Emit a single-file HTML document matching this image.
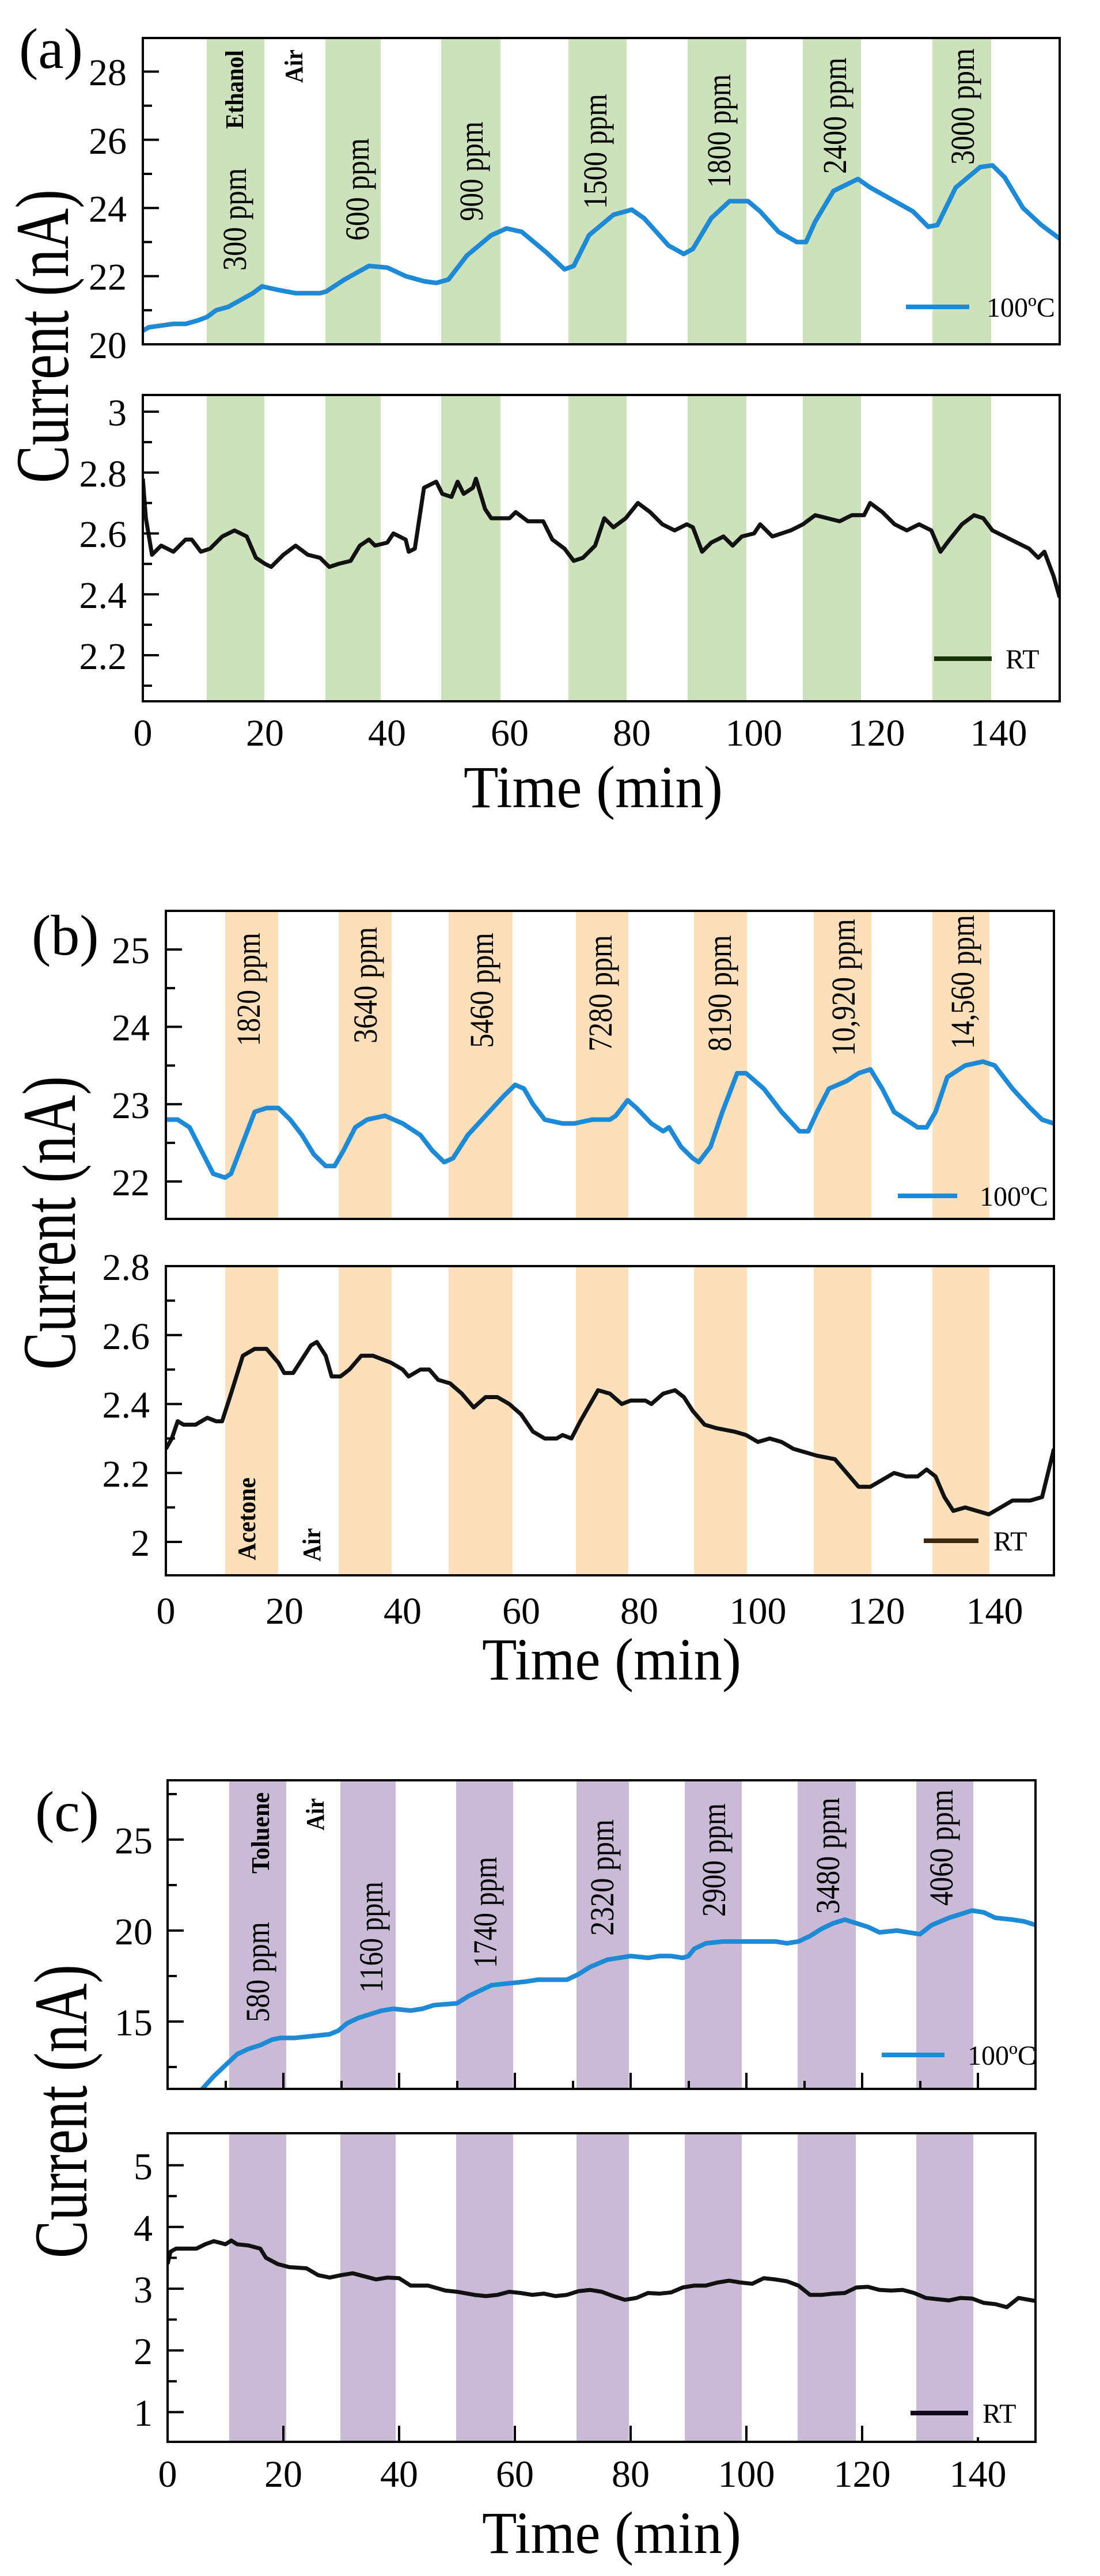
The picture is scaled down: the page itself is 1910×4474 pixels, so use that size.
<!DOCTYPE html>
<html><head><meta charset="utf-8"><style>
html,body{margin:0;padding:0;background:#fff;}
svg{display:block;}
text{font-family:"Liberation Serif",serif;fill:#000;}
.tk{font-size:66px;}
.ax{fill:none;stroke:#000;stroke-width:4;}
.t{stroke:#000;stroke-width:4;}
.b{fill:none;stroke:#1e8ad6;stroke-width:8;stroke-linejoin:round;vector-effect:non-scaling-stroke;}
.k{fill:none;stroke:#111;stroke-width:7;stroke-linejoin:round;vector-effect:non-scaling-stroke;}
.pp{font-size:58px;}
.bd{font-size:44px;font-weight:bold;}
.lg{font-size:48px;}
</style></head><body>
<svg width="1910" height="4474" viewBox="0 0 1910 4474" xmlns="http://www.w3.org/2000/svg">
<defs>
<clipPath id="ca1"><rect x="248" y="66" width="1592" height="532"/></clipPath>
<clipPath id="ca2"><rect x="248" y="686" width="1592" height="532"/></clipPath>
<clipPath id="cb1"><rect x="288" y="1582" width="1542" height="535"/></clipPath>
<clipPath id="cb2"><rect x="288" y="2199" width="1542" height="537"/></clipPath>
<clipPath id="cc1"><rect x="291" y="3092" width="1507" height="536"/></clipPath>
<clipPath id="cc2"><rect x="291" y="3705" width="1507" height="536"/></clipPath>
<g id="bA" fill="#cde1bc"><rect x="359" y="0" width="100" height="1"/><rect x="565" y="0" width="96" height="1"/><rect x="766" y="0" width="103" height="1"/><rect x="987" y="0" width="101" height="1"/><rect x="1194" y="0" width="102" height="1"/><rect x="1394" y="0" width="101" height="1"/><rect x="1619" y="0" width="102" height="1"/></g>
<g id="bB" fill="#fde0bb"><rect x="391" y="0" width="92" height="1"/><rect x="588" y="0" width="92" height="1"/><rect x="779" y="0" width="111" height="1"/><rect x="1000" y="0" width="91" height="1"/><rect x="1205" y="0" width="92" height="1"/><rect x="1413" y="0" width="100" height="1"/><rect x="1619" y="0" width="99" height="1"/></g>
<g id="bC" fill="#c9bbd6"><rect x="398" y="0" width="99" height="1"/><rect x="591" y="0" width="96" height="1"/><rect x="792" y="0" width="99" height="1"/><rect x="1001" y="0" width="91" height="1"/><rect x="1189" y="0" width="99" height="1"/><rect x="1385" y="0" width="101" height="1"/><rect x="1591" y="0" width="99" height="1"/></g>
</defs>

<!-- ================= (a) ================= -->
<use href="#bA" transform="translate(0,66) scale(1,532)"/>
<use href="#bA" transform="translate(0,686) scale(1,532)"/>
<g clip-path="url(#ca1)"><polyline class="b" transform="matrix(10.613 0 0 -59.2 248 1782)" points="0,20.4 1,20.5 3,20.55 5,20.6 7,20.6 9,20.7 10.5,20.8 12,21.0 14,21.1 16,21.3 18,21.5 19.5,21.7 22,21.6 25,21.5 27,21.5 29,21.5 30,21.55 33,21.9 35,22.1 37,22.3 40,22.25 43,22.0 46,21.85 48,21.8 50,21.9 53,22.6 57,23.2 59.5,23.4 62,23.3 64,23.0 66,22.7 69,22.2 70.5,22.3 73,23.2 77,23.8 80,23.95 82,23.7 84,23.3 86,22.9 88.5,22.65 90,22.8 93,23.7 96,24.2 99,24.2 101,23.9 104,23.3 107,23.0 108.5,23.0 110,23.6 113,24.5 117,24.85 119,24.6 123,24.2 126,23.9 128.5,23.45 130,23.5 133,24.6 137,25.2 139,25.25 141,24.9 144,24.0 147,23.5 150,23.1"/></g>
<g clip-path="url(#ca2)"><polyline class="k" transform="matrix(10.613 0 0 -528.75 248 2301.25)" points="0,2.78 0.5,2.65 1.5,2.53 3,2.56 5,2.54 7,2.58 8,2.58 9.5,2.54 11,2.55 13,2.59 15,2.61 17,2.59 18.5,2.52 20,2.5 21,2.49 23,2.53 25,2.56 27,2.53 29,2.52 30.5,2.49 32,2.5 34,2.51 35.5,2.56 37,2.58 38,2.56 40,2.57 41,2.6 43,2.58 43.5,2.54 44.5,2.55 46,2.75 47,2.76 48,2.77 49,2.73 50.5,2.72 51.5,2.77 52.5,2.73 54,2.75 54.5,2.78 56,2.68 57,2.65 60,2.65 61,2.67 63,2.64 65.5,2.64 67,2.58 69,2.55 70.5,2.51 72,2.52 74,2.56 75.5,2.65 77,2.62 79,2.65 81,2.70 83,2.67 85,2.63 87,2.61 89,2.63 90,2.62 91.5,2.54 93,2.57 95,2.59 96.5,2.56 98,2.59 100,2.6 101,2.63 103,2.59 106,2.61 108,2.63 110,2.66 114,2.64 116,2.66 118,2.66 119,2.7 121,2.67 123,2.63 125,2.61 127,2.63 129,2.61 130.5,2.54 132,2.58 134,2.63 136,2.66 137.5,2.65 139,2.61 141,2.59 143,2.57 145,2.55 146.5,2.52 147.5,2.54 149,2.46 150,2.39"/></g>
<rect class="ax" x="248" y="66" width="1592" height="532"/>
<rect class="ax" x="248" y="686" width="1592" height="532"/>
<g class="t">
<line x1="248" y1="598" x2="276" y2="598"/><line x1="248" y1="479.6" x2="276" y2="479.6"/><line x1="248" y1="361.2" x2="276" y2="361.2"/><line x1="248" y1="242.8" x2="276" y2="242.8"/><line x1="248" y1="124.4" x2="276" y2="124.4"/>
<line x1="248" y1="538.8" x2="264" y2="538.8"/><line x1="248" y1="420.4" x2="264" y2="420.4"/><line x1="248" y1="302" x2="264" y2="302"/><line x1="248" y1="183.6" x2="264" y2="183.6"/>
<line x1="248" y1="715" x2="276" y2="715"/><line x1="248" y1="820.75" x2="276" y2="820.75"/><line x1="248" y1="926.5" x2="276" y2="926.5"/><line x1="248" y1="1032.25" x2="276" y2="1032.25"/><line x1="248" y1="1138" x2="276" y2="1138"/>
<line x1="248" y1="767.9" x2="264" y2="767.9"/><line x1="248" y1="873.6" x2="264" y2="873.6"/><line x1="248" y1="979.4" x2="264" y2="979.4"/><line x1="248" y1="1085.1" x2="264" y2="1085.1"/><line x1="248" y1="1190.9" x2="264" y2="1190.9"/>
</g>
<g class="tk" text-anchor="end">
<text x="220" y="622">20</text><text x="220" y="503">22</text><text x="220" y="385">24</text><text x="220" y="267">26</text><text x="220" y="148">28</text>
<text x="220" y="739">3</text><text x="220" y="845">2.8</text><text x="220" y="950">2.6</text><text x="220" y="1056">2.4</text><text x="220" y="1162">2.2</text>
</g>
<g class="tk" text-anchor="middle">
<text x="248" y="1295">0</text><text x="460" y="1295">20</text><text x="672" y="1295">40</text><text x="885" y="1295">60</text><text x="1097" y="1295">80</text><text x="1309" y="1295">100</text><text x="1522" y="1295">120</text><text x="1734" y="1295">140</text>
</g>
<text x="1030" y="1402" font-size="104" text-anchor="middle" textLength="450" lengthAdjust="spacingAndGlyphs">Time (min)</text>
<text transform="translate(118,584) rotate(-90)" font-size="132" text-anchor="middle" textLength="510" lengthAdjust="spacingAndGlyphs">Current (nA)</text>
<text x="33" y="118" font-size="100">(a)</text>
<g class="pp" lengthAdjust="spacingAndGlyphs">
<text transform="translate(427,470) rotate(-90)" textLength="178" lengthAdjust="spacingAndGlyphs">300 ppm</text>
<text transform="translate(640,418) rotate(-90)" textLength="178" lengthAdjust="spacingAndGlyphs">600 ppm</text>
<text transform="translate(838,384) rotate(-90)" textLength="173" lengthAdjust="spacingAndGlyphs">900 ppm</text>
<text transform="translate(1053,363) rotate(-90)" textLength="200" lengthAdjust="spacingAndGlyphs">1500 ppm</text>
<text transform="translate(1268,326) rotate(-90)" textLength="197" lengthAdjust="spacingAndGlyphs">1800 ppm</text>
<text transform="translate(1469,302) rotate(-90)" textLength="202" lengthAdjust="spacingAndGlyphs">2400 ppm</text>
<text transform="translate(1691,286) rotate(-90)" textLength="202" lengthAdjust="spacingAndGlyphs">3000 ppm</text>
</g>
<text class="bd" transform="translate(422,224) rotate(-90)" textLength="137" lengthAdjust="spacingAndGlyphs">Ethanol</text>
<text class="bd" transform="translate(525,144) rotate(-90)" textLength="58" lengthAdjust="spacingAndGlyphs">Air</text>
<line x1="1573" y1="533" x2="1683" y2="533" stroke="#1e8ad6" stroke-width="8"/>
<text class="lg" x="1713" y="550">100ºC</text>
<line x1="1622" y1="1144" x2="1722" y2="1144" stroke="#1b3308" stroke-width="8"/>
<text class="lg" x="1746" y="1161">RT</text>

<!-- ================= (b) ================= -->
<use href="#bB" transform="translate(0,1582) scale(1,535)"/>
<use href="#bB" transform="translate(0,2199) scale(1,537)"/>
<g clip-path="url(#cb1)"><polyline class="b" transform="matrix(10.28 0 0 -134.3 288 5006.6)" points="0,22.8 2,22.8 4,22.7 6,22.4 8,22.1 10,22.05 11,22.1 13,22.5 15,22.9 17,22.95 19,22.95 21,22.8 23,22.6 25,22.35 27,22.2 28.5,22.2 30,22.4 32,22.7 34,22.8 37,22.85 40,22.75 43,22.6 45,22.4 47,22.25 48.5,22.3 51,22.6 54,22.85 57,23.1 59,23.25 60.5,23.2 62,23.0 64,22.8 67,22.75 69,22.75 72,22.8 75,22.8 76,22.85 78,23.05 79.5,22.95 82,22.75 84,22.65 85,22.7 87,22.45 89,22.3 90,22.25 92,22.45 94,22.9 96.5,23.4 98,23.4 101,23.2 104,22.9 107,22.65 108.5,22.65 110,22.9 112,23.2 115,23.3 117,23.4 119,23.45 121,23.2 123,22.9 125,22.8 127,22.7 128.5,22.7 130,22.9 132,23.35 135,23.5 138,23.55 140,23.5 143,23.2 146,22.95 148,22.8 150,22.75"/></g>
<g clip-path="url(#cb2)"><polyline class="k" transform="matrix(10.28 0 0 -598.75 288 3875.5)" points="0,2.27 1,2.3 2,2.35 3,2.34 5,2.34 7,2.36 8.5,2.35 9.5,2.35 11,2.43 13,2.54 15,2.56 17,2.56 19,2.52 20,2.49 21.5,2.49 23,2.53 24.5,2.57 25.5,2.58 27,2.54 28,2.48 29.5,2.48 31,2.5 33,2.54 35,2.54 38,2.52 40,2.5 41,2.48 43,2.5 44.5,2.5 46,2.47 48,2.46 50,2.43 52,2.39 54,2.42 56,2.42 58,2.4 60,2.37 62,2.32 64,2.3 66,2.3 67,2.31 68.5,2.3 70,2.35 72,2.41 73,2.44 75,2.43 77,2.4 78.5,2.41 81,2.41 82,2.4 84,2.43 86,2.44 87.5,2.42 89,2.38 91,2.34 93,2.33 96,2.32 98,2.31 100,2.29 102,2.3 104,2.29 106,2.27 108,2.26 110,2.25 113,2.24 115,2.2 117,2.16 119,2.16 121,2.18 123,2.2 125,2.19 127,2.19 128.5,2.21 130,2.19 131.5,2.13 133,2.09 135,2.1 137,2.09 139,2.08 141,2.1 143,2.12 146,2.12 148,2.13 149,2.2 150,2.27"/></g>
<rect class="ax" x="288" y="1582" width="1542" height="535"/>
<rect class="ax" x="288" y="2199" width="1542" height="537"/>
<g class="t">
<line x1="288" y1="2052" x2="316" y2="2052"/><line x1="288" y1="1917.7" x2="316" y2="1917.7"/><line x1="288" y1="1783.4" x2="316" y2="1783.4"/><line x1="288" y1="1649.1" x2="316" y2="1649.1"/>
<line x1="288" y1="1984.9" x2="304" y2="1984.9"/><line x1="288" y1="1850.6" x2="304" y2="1850.6"/><line x1="288" y1="1716.2" x2="304" y2="1716.2"/>
<line x1="288" y1="2678" x2="316" y2="2678"/><line x1="288" y1="2558.25" x2="316" y2="2558.25"/><line x1="288" y1="2438.5" x2="316" y2="2438.5"/><line x1="288" y1="2318.75" x2="316" y2="2318.75"/><line x1="288" y1="2199" x2="316" y2="2199"/>
<line x1="288" y1="2618.1" x2="304" y2="2618.1"/><line x1="288" y1="2498.4" x2="304" y2="2498.4"/><line x1="288" y1="2378.6" x2="304" y2="2378.6"/><line x1="288" y1="2258.9" x2="304" y2="2258.9"/>
</g>
<g class="tk" text-anchor="end">
<text x="260" y="2076">22</text><text x="260" y="1942">23</text><text x="260" y="1807">24</text><text x="260" y="1673">25</text>
<text x="260" y="2702">2</text><text x="260" y="2582">2.2</text><text x="260" y="2462">2.4</text><text x="260" y="2343">2.6</text><text x="260" y="2223">2.8</text>
</g>
<g class="tk" text-anchor="middle">
<text x="288" y="2820">0</text><text x="494" y="2820">20</text><text x="699" y="2820">40</text><text x="905" y="2820">60</text><text x="1110" y="2820">80</text><text x="1316" y="2820">100</text><text x="1522" y="2820">120</text><text x="1727" y="2820">140</text>
</g>
<text x="1062" y="2917" font-size="104" text-anchor="middle" textLength="450" lengthAdjust="spacingAndGlyphs">Time (min)</text>
<text transform="translate(130,2124) rotate(-90)" font-size="132" text-anchor="middle" textLength="510" lengthAdjust="spacingAndGlyphs">Current (nA)</text>
<text x="55" y="1658" font-size="100">(b)</text>
<g class="pp">
<text transform="translate(451,1817) rotate(-90)" textLength="197" lengthAdjust="spacingAndGlyphs">1820 ppm</text>
<text transform="translate(654,1812) rotate(-90)" textLength="202" lengthAdjust="spacingAndGlyphs">3640 ppm</text>
<text transform="translate(856,1820) rotate(-90)" textLength="200" lengthAdjust="spacingAndGlyphs">5460 ppm</text>
<text transform="translate(1062,1826) rotate(-90)" textLength="202" lengthAdjust="spacingAndGlyphs">7280 ppm</text>
<text transform="translate(1269,1826) rotate(-90)" textLength="202" lengthAdjust="spacingAndGlyphs">8190 ppm</text>
<text transform="translate(1484,1834) rotate(-90)" textLength="238" lengthAdjust="spacingAndGlyphs">10,920 ppm</text>
<text transform="translate(1691,1822) rotate(-90)" textLength="233" lengthAdjust="spacingAndGlyphs">14,560 ppm</text>
</g>
<text class="bd" transform="translate(443,2710) rotate(-90)" textLength="144" lengthAdjust="spacingAndGlyphs">Acetone</text>
<text class="bd" transform="translate(556,2712) rotate(-90)" textLength="58" lengthAdjust="spacingAndGlyphs">Air</text>
<line x1="1559" y1="2077" x2="1662" y2="2077" stroke="#1e8ad6" stroke-width="8"/>
<text class="lg" x="1701" y="2094">100ºC</text>
<line x1="1604" y1="2676" x2="1699" y2="2676" stroke="#3a2810" stroke-width="8"/>
<text class="lg" x="1725" y="2693">RT</text>

<!-- ================= (c) ================= -->
<use href="#bC" transform="translate(0,3092) scale(1,536)"/>
<use href="#bC" transform="translate(0,3705) scale(1,536)"/>
<g clip-path="url(#cc1)"><polyline class="b" transform="matrix(10.05 0 0 -31.6 291 3985)" points="5.5,11.0 6,11.3 8,12.0 10,12.6 12,13.2 14,13.5 16,13.7 18,14.0 19.5,14.1 22,14.1 25,14.2 28,14.3 29.5,14.5 31,14.9 33,15.2 35,15.4 37,15.6 39,15.7 42,15.6 44,15.7 46,15.9 48,15.95 50,16.0 52,16.4 54,16.7 56,17.0 59,17.1 62,17.2 64,17.3 67,17.3 69,17.3 71,17.6 73,18.0 76,18.4 78,18.5 80,18.6 83,18.5 85,18.6 87,18.6 89,18.5 90,18.6 91,19.0 93,19.3 96,19.4 99,19.4 102,19.4 105,19.4 107,19.3 109,19.4 111,19.7 113,20.1 115,20.4 117,20.6 119,20.4 121,20.2 123,19.9 126,20.0 128,19.9 130,19.8 132,20.3 135,20.7 137,20.9 139,21.1 141,21.0 143,20.7 146,20.6 148,20.5 150,20.3"/></g>
<g clip-path="url(#cc2)"><polyline class="k" transform="matrix(10.05 0 0 -107.2 291 4296.6)" points="0,3.4 0.5,3.6 1.5,3.65 3,3.65 5,3.65 6.5,3.72 8,3.77 10,3.72 11,3.78 12,3.72 14,3.7 16,3.65 17,3.5 19,3.4 21,3.35 24,3.33 26,3.22 28,3.18 30,3.22 32,3.25 34,3.2 36,3.15 38,3.18 40,3.17 42,3.05 45,3.05 48,2.97 50,2.95 53,2.9 55,2.88 57,2.9 59,2.95 61,2.93 63,2.9 65,2.92 67,2.88 69,2.9 71,2.96 73,2.98 75,2.95 77,2.88 79,2.82 81,2.85 83,2.93 85,2.92 87,2.94 89,3.02 91,3.05 93,3.05 95,3.1 97,3.13 99,3.1 101,3.08 103,3.17 105,3.15 107,3.12 109,3.05 111,2.9 113,2.9 115,2.92 117,2.93 119,3.02 121,3.03 123,2.98 125,2.97 127,2.98 129,2.93 131,2.85 133,2.83 135,2.81 137,2.85 139,2.84 141,2.77 143,2.75 145,2.7 147,2.85 150,2.8"/></g>
<rect class="ax" x="291" y="3092" width="1507" height="536"/>
<rect class="ax" x="291" y="3705" width="1507" height="536"/>
<g class="t">
<line x1="291" y1="3511" x2="319" y2="3511"/><line x1="291" y1="3353" x2="319" y2="3353"/><line x1="291" y1="3195" x2="319" y2="3195"/>
<line x1="291" y1="3590" x2="307" y2="3590"/><line x1="291" y1="3432" x2="307" y2="3432"/><line x1="291" y1="3274" x2="307" y2="3274"/><line x1="291" y1="3116" x2="307" y2="3116"/>
<line x1="291" y1="4189.4" x2="319" y2="4189.4"/><line x1="291" y1="4082.2" x2="319" y2="4082.2"/><line x1="291" y1="3975" x2="319" y2="3975"/><line x1="291" y1="3867.8" x2="319" y2="3867.8"/><line x1="291" y1="3760.6" x2="319" y2="3760.6"/>
<line x1="291" y1="4135.8" x2="307" y2="4135.8"/><line x1="291" y1="4028.6" x2="307" y2="4028.6"/><line x1="291" y1="3921.4" x2="307" y2="3921.4"/><line x1="291" y1="3814.2" x2="307" y2="3814.2"/>
<line x1="392" y1="3628" x2="392" y2="3614"/><line x1="492" y1="3628" x2="492" y2="3600"/><line x1="593" y1="3628" x2="593" y2="3614"/><line x1="693" y1="3628" x2="693" y2="3600"/><line x1="794" y1="3628" x2="794" y2="3614"/><line x1="894" y1="3628" x2="894" y2="3600"/><line x1="995" y1="3628" x2="995" y2="3614"/><line x1="1095" y1="3628" x2="1095" y2="3600"/><line x1="1196" y1="3628" x2="1196" y2="3614"/><line x1="1296" y1="3628" x2="1296" y2="3600"/><line x1="1397" y1="3628" x2="1397" y2="3614"/><line x1="1497" y1="3628" x2="1497" y2="3600"/><line x1="1598" y1="3628" x2="1598" y2="3614"/><line x1="1698" y1="3628" x2="1698" y2="3600"/>
<line x1="492" y1="4241" x2="492" y2="4213"/><line x1="693" y1="4241" x2="693" y2="4213"/><line x1="894" y1="4241" x2="894" y2="4213"/><line x1="1095" y1="4241" x2="1095" y2="4213"/><line x1="1296" y1="4241" x2="1296" y2="4213"/><line x1="1497" y1="4241" x2="1497" y2="4213"/><line x1="1698" y1="4241" x2="1698" y2="4233"/>
</g>
<g class="tk" text-anchor="end">
<text x="265" y="3535">15</text><text x="265" y="3377">20</text><text x="265" y="3219">25</text>
<text x="265" y="4213">1</text><text x="265" y="4106">2</text><text x="265" y="3999">3</text><text x="265" y="3892">4</text><text x="265" y="3785">5</text>
</g>
<g class="tk" text-anchor="middle">
<text x="291" y="4319">0</text><text x="492" y="4319">20</text><text x="693" y="4319">40</text><text x="894" y="4319">60</text><text x="1095" y="4319">80</text><text x="1296" y="4319">100</text><text x="1497" y="4319">120</text><text x="1698" y="4319">140</text>
</g>
<text x="1062" y="4434" font-size="104" text-anchor="middle" textLength="450" lengthAdjust="spacingAndGlyphs">Time (min)</text>
<text transform="translate(150,3667) rotate(-90)" font-size="132" text-anchor="middle" textLength="510" lengthAdjust="spacingAndGlyphs">Current (nA)</text>
<text x="61" y="3180" font-size="100">(c)</text>
<g class="pp">
<text transform="translate(467,3512) rotate(-90)" textLength="174" lengthAdjust="spacingAndGlyphs">580 ppm</text>
<text transform="translate(664,3461) rotate(-90)" textLength="193" lengthAdjust="spacingAndGlyphs">1160 ppm</text>
<text transform="translate(862,3418) rotate(-90)" textLength="193" lengthAdjust="spacingAndGlyphs">1740 ppm</text>
<text transform="translate(1065,3362) rotate(-90)" textLength="202" lengthAdjust="spacingAndGlyphs">2320 ppm</text>
<text transform="translate(1259,3329) rotate(-90)" textLength="197" lengthAdjust="spacingAndGlyphs">2900 ppm</text>
<text transform="translate(1457,3324) rotate(-90)" textLength="202" lengthAdjust="spacingAndGlyphs">3480 ppm</text>
<text transform="translate(1654,3310) rotate(-90)" textLength="202" lengthAdjust="spacingAndGlyphs">4060 ppm</text>
</g>
<text class="bd" transform="translate(467,3254) rotate(-90)" textLength="141" lengthAdjust="spacingAndGlyphs">Toluene</text>
<text class="bd" transform="translate(562,3179) rotate(-90)" textLength="56" lengthAdjust="spacingAndGlyphs">Air</text>
<line x1="1531" y1="3569" x2="1640" y2="3569" stroke="#1e8ad6" stroke-width="8"/>
<text class="lg" x="1680" y="3586">100ºC</text>
<line x1="1581" y1="4191" x2="1681" y2="4191" stroke="#140a1e" stroke-width="8"/>
<text class="lg" x="1706" y="4208">RT</text>
</svg>
</body></html>
